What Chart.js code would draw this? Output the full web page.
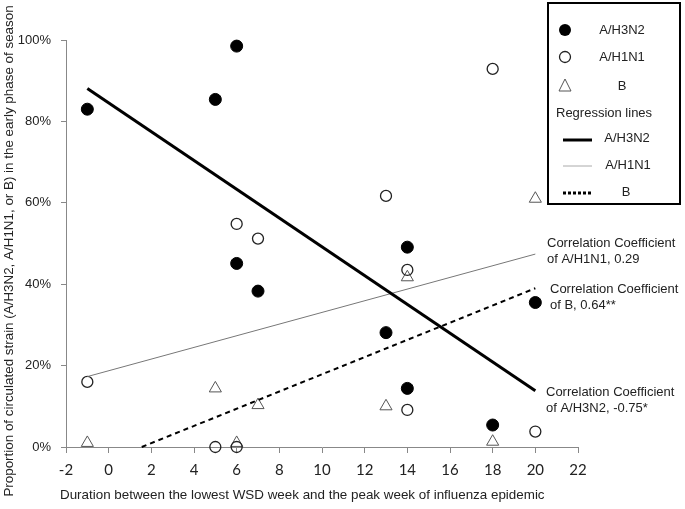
<!DOCTYPE html>
<html>
<head>
<meta charset="utf-8">
<script src="https://cdn.jsdelivr.net/npm/chart.js@4"></script>
<style>
  html, body { margin: 0; padding: 0; background: #fff; }
  #wrap { width: 685px; height: 509px; position: relative; }
</style>
</head>
<body>
<div id="wrap"><canvas id="myChart"></canvas></div>
<script>
// ---------- data ----------
const xTicks = [-2, 0, 2, 4, 6, 8, 10, 12, 14, 16, 18, 20, 22];
const yTicks = [0, 20, 40, 60, 80, 100];

const h3n2_x = [-1, 5, 6, 6, 7, 13, 14, 14, 18, 20];
const h3n2_y = [83.0, 85.4, 98.5, 45.1, 38.3, 28.1, 49.1, 14.4, 5.4, 35.5];

const h1n1_x = [-1, 5, 6, 6, 7, 13, 14, 14, 18, 20];
const h1n1_y = [16.0, 0, 54.8, 0, 51.2, 61.7, 43.5, 9.1, 92.9, 3.8];

const b_x = [-1, 5, 6, 7, 13, 14, 18, 20];
const b_y = [1.0, 14.4, 1.0, 10.3, 10.0, 41.7, 1.3, 61.0];

// regression line end points
const reg_h3n2_x = [-1, 20];
const reg_h3n2_y = [88.1, 13.8];
const reg_h1n1_x = [-1, 20];
const reg_h1n1_y = [17.3, 47.4];
const reg_b_x = [1.55, 20];
const reg_b_y = [0, 39.0];

const notes = [
    ['Correlation Coefficient', 'of A/H1N1, 0.29'],
    ['Correlation Coefficient', 'of B, 0.64**'],
    ['Correlation Coefficient', 'of A/H3N2, -0.75*'],
];

const xTitle = 'Duration between the lowest WSD week and the peak week of influenza epidemic';
const yTitle = 'Proportion of circulated strain (A/H3N2, A/H1N1, or B) in the early phase of season';

function pts(xs, ys) {
    return xs.map((x, i) => ({x: x, y: ys[i]}));
}

const textFont = '13px "Liberation Sans", Arial, sans-serif';

// ---------- legend box + notes + axis titles ----------
const extras = {
    id: 'extras',
    afterDraw(chart) {
        const ctx = chart.ctx;
        ctx.save();

        // legend frame
        ctx.strokeStyle = '#000';
        ctx.lineWidth = 2;
        ctx.strokeRect(548, 3, 132, 201);

        ctx.fillStyle = '#222';
        ctx.font = textFont;
        ctx.textBaseline = 'middle';

        // markers
        ctx.beginPath();
        ctx.arc(565, 30, 6, 0, Math.PI * 2);
        ctx.fillStyle = '#000';
        ctx.fill();

        ctx.beginPath();
        ctx.arc(565, 57, 5.5, 0, Math.PI * 2);
        ctx.strokeStyle = '#222';
        ctx.lineWidth = 1.3;
        ctx.stroke();

        ctx.beginPath();
        ctx.moveTo(565, 79);
        ctx.lineTo(571, 91);
        ctx.lineTo(559, 91);
        ctx.closePath();
        ctx.strokeStyle = '#555';
        ctx.lineWidth = 1;
        ctx.stroke();

        // line samples
        ctx.beginPath();
        ctx.moveTo(563, 140); ctx.lineTo(592, 140);
        ctx.strokeStyle = '#000'; ctx.lineWidth = 3;
        ctx.stroke();

        ctx.beginPath();
        ctx.moveTo(563, 166); ctx.lineTo(592, 166);
        ctx.strokeStyle = '#aaa'; ctx.lineWidth = 1;
        ctx.stroke();

        ctx.beginPath();
        ctx.setLineDash([3, 2]);
        ctx.moveTo(563, 193); ctx.lineTo(592, 193);
        ctx.strokeStyle = '#000'; ctx.lineWidth = 3;
        ctx.stroke();
        ctx.setLineDash([]);

        // legend texts
        ctx.fillStyle = '#222';
        ctx.textAlign = 'center';
        ctx.fillText('A/H3N2', 622, 30);
        ctx.fillText('A/H1N1', 622, 57);
        ctx.fillText('B', 622, 86);
        ctx.fillText('A/H3N2', 627, 138);
        ctx.fillText('A/H1N1', 628, 165);
        ctx.fillText('B', 626, 192);
        ctx.textAlign = 'left';
        ctx.fillText('Regression lines', 556, 113);

        // correlation notes
        const pos = [[547, 243], [550, 289], [546, 392]];
        notes.forEach((n, i) => {
            ctx.fillText(n[0], pos[i][0], pos[i][1]);
            ctx.fillText(n[1], pos[i][0], pos[i][1] + 16);
        });

        // axis titles
        ctx.font = '13.4px "Liberation Sans", Arial, sans-serif';
        ctx.textAlign = 'left';
        ctx.fillText(xTitle, 60, 495);

        ctx.translate(9, 251);
        ctx.rotate(-Math.PI / 2);
        ctx.textAlign = 'center';
        ctx.fillText(yTitle, 0, 0);

        ctx.restore();
    }
};

const data = {
    datasets: [
        {
            type: 'line',
            label: 'reg A/H3N2',
            data: pts(reg_h3n2_x, reg_h3n2_y),
            borderColor: '#000',
            borderWidth: 3,
            pointRadius: 0,
            fill: false,
        },
        {
            type: 'line',
            label: 'reg A/H1N1',
            data: pts(reg_h1n1_x, reg_h1n1_y),
            borderColor: '#777',
            borderWidth: 1,
            pointRadius: 0,
            fill: false,
        },
        {
            type: 'line',
            label: 'reg B',
            data: pts(reg_b_x, reg_b_y),
            borderColor: '#000',
            borderWidth: 2,
            borderDash: [5, 4],
            pointRadius: 0,
            fill: false,
        },
        {
            label: 'A/H3N2',
            data: pts(h3n2_x, h3n2_y),
            pointStyle: 'circle',
            pointRadius: 6,
            backgroundColor: '#000',
            borderColor: '#000',
            borderWidth: 1,
        },
        {
            label: 'A/H1N1',
            data: pts(h1n1_x, h1n1_y),
            pointStyle: 'circle',
            pointRadius: 5.5,
            backgroundColor: 'rgba(255,255,255,0)',
            borderColor: '#222',
            borderWidth: 1.3,
        },
        {
            label: 'B',
            data: pts(b_x, b_y),
            pointStyle: 'triangle',
            pointRadius: 7,
            backgroundColor: 'rgba(255,255,255,0)',
            borderColor: '#555',
            borderWidth: 1,
        },
    ]
};

const config = {
    type: 'scatter',
    data: data,
    plugins: [extras],
    options: {
        responsive: true,
        maintainAspectRatio: false,
        animation: false,
        clip: false,
        layout: { padding: { left: 0, right: 107, top: 40, bottom: 0 } },
        plugins: {
            legend: { display: false },
            tooltip: { enabled: false },
        },
        scales: {
            x: {
                type: 'linear',
                min: -2,
                max: 22,
                afterBuildTicks: (s) => { s.ticks = xTicks.map(v => ({value: v})); },
                afterFit: (s) => { s.height = 62; },
                border: { color: '#888', width: 1 },
                grid: { drawOnChartArea: false, drawTicks: true, tickLength: 6, color: '#888' },
                ticks: {
                    color: '#222',
                    padding: 8,
                    font: { family: 'Lato, "Open Sans", sans-serif', size: 15 },
                },
            },
            y: {
                type: 'linear',
                min: 0,
                max: 100,
                afterBuildTicks: (s) => { s.ticks = yTicks.map(v => ({value: v})); },
                afterFit: (s) => { s.width = 66; },
                border: { color: '#888', width: 1 },
                grid: { drawOnChartArea: false, drawTicks: true, tickLength: 5, color: '#888' },
                ticks: {
                    color: '#222',
                    padding: 10,
                    font: { family: '"Liberation Sans", Arial, sans-serif', size: 13 },
                    callback: (v) => v + '%',
                },
            },
        },
    },
};

const myChart = new Chart(document.getElementById('myChart'), config);
</script>
</body>
</html>
